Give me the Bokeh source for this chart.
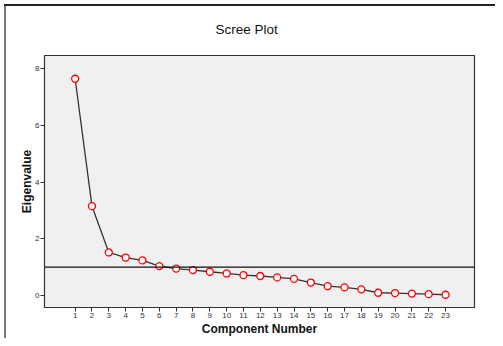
from bokeh.plotting import figure
from bokeh.models import Span, Range1d, FixedTicker, Title
from bokeh.embed import file_html
from bokeh.resources import INLINE

components = list(range(1, 24))
eigenvalues = [7.64, 3.15, 1.52, 1.34, 1.24, 1.04, 0.95, 0.90, 0.84, 0.78, 0.72, 0.69,
               0.64, 0.59, 0.46, 0.33, 0.29, 0.22, 0.10, 0.09, 0.07, 0.05, 0.03]
y_ticks = [0, 2, 4, 6, 8]
cutoff = 1.0
title_text = "Scree Plot"

p = figure(width=495, height=338, output_backend="svg", toolbar_location=None,
           x_range=Range1d(-0.82, 24.72), y_range=Range1d(-0.42, 8.46),
           min_border_left=44, min_border_right=21, min_border_top=55, min_border_bottom=30)

p.title = Title(text=title_text, align="left", offset=171,
                text_font="Liberation Sans", text_font_size="13.5px",
                text_font_style="normal", text_color="#111111", standoff=37)

# window-like outer frame lines (top dark, left gray)
p.styles = {"box-shadow": "inset 0 4px 0 0 white, inset 4px 0 0 0 white, "
                          "inset 0 6px 0 0 #222222, inset 6px 0 0 0 #777777"}

p.background_fill_color = "#f0f0f0"
p.border_fill_color = None
p.outline_line_color = "#333333"
p.outline_line_width = 1.2
p.grid.visible = False

for ax in (p.xaxis[0], p.yaxis[0]):
    ax.axis_line_color = "#333333"
    ax.major_tick_line_color = "#333333"
    ax.major_tick_out = 4
    ax.major_tick_in = 0
    ax.minor_tick_line_color = None
    ax.major_label_text_font = "Liberation Sans"
    ax.major_label_text_font_size = "8px"
    ax.major_label_text_color = "#333333"
    ax.axis_label_text_font = "Liberation Sans"
    ax.axis_label_text_font_size = "12px"
    ax.axis_label_text_font_style = "bold"
    ax.axis_label_text_color = "#111111"

p.xaxis.ticker = FixedTicker(ticks=components)
p.yaxis.ticker = FixedTicker(ticks=y_ticks)
p.xaxis.axis_label = "Component Number"
p.yaxis.axis_label = "Eigenvalue"
p.xaxis.major_label_standoff = 1
p.yaxis.major_label_standoff = 1
p.xaxis.axis_label_standoff = 1
p.yaxis.axis_label_standoff = -2

p.add_layout(Span(location=cutoff, dimension="width", line_color="#111111", line_width=1.2))

p.line(components, eigenvalues, line_color="#333333", line_width=1.3)
p.scatter(components, eigenvalues, size=7, fill_color="white", line_color="red", line_width=1.3)

open("out.html", "w").write(file_html(p, INLINE))
